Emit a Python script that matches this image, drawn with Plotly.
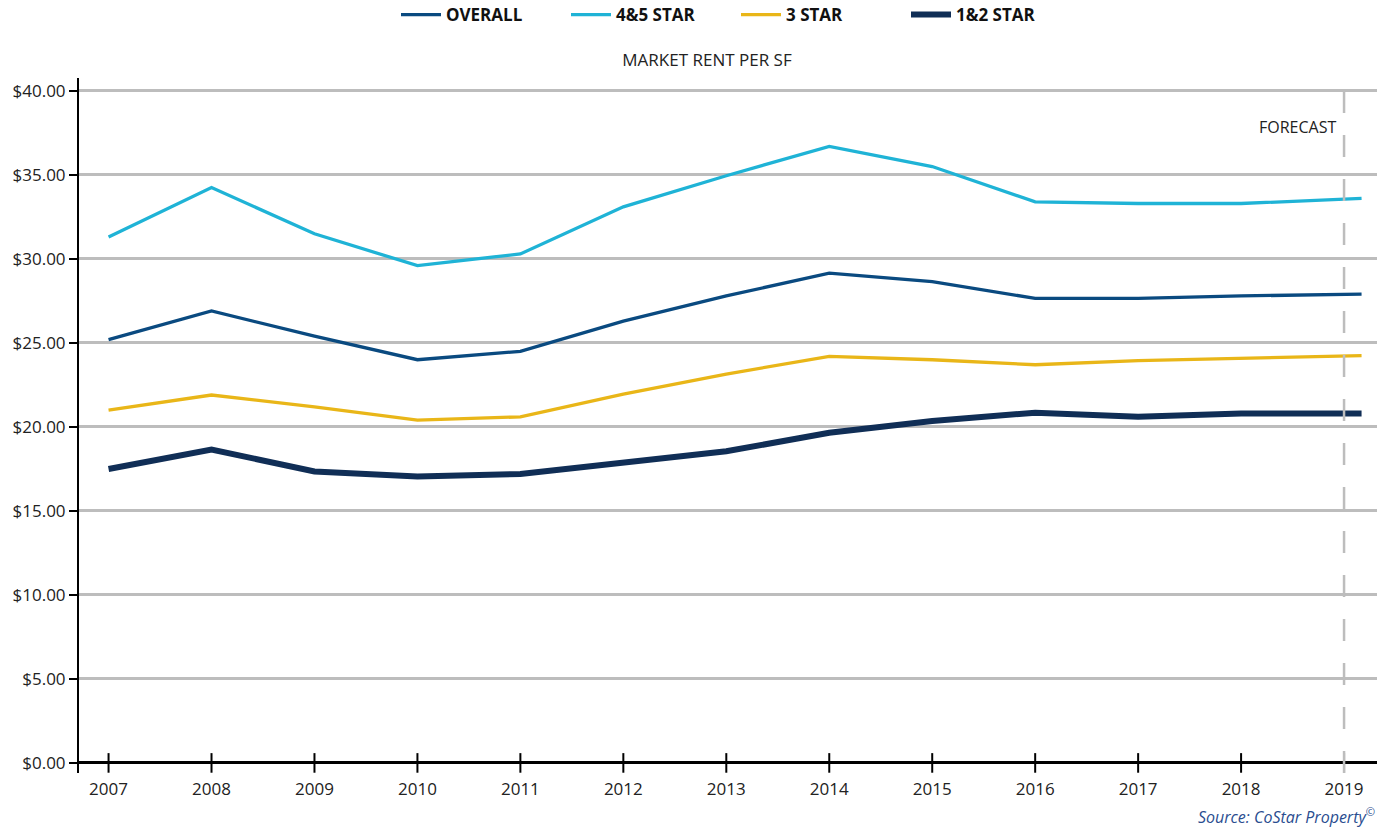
import plotly.graph_objects as go

# ---- data ----
years = [2007, 2008, 2009, 2010, 2011, 2012, 2013, 2014, 2015, 2016, 2017, 2018, 2019.17]
tick_years = [2007, 2008, 2009, 2010, 2011, 2012, 2013, 2014, 2015, 2016, 2017, 2018, 2019]
overall = [25.2, 26.9, 25.4, 24.0, 24.5, 26.3, 27.8, 29.15, 28.65, 27.65, 27.65, 27.8, 27.9]
star45 = [31.3, 34.25, 31.5, 29.6, 30.3, 33.1, 34.95, 36.7, 35.5, 33.4, 33.3, 33.3, 33.6]
star3 = [21.0, 21.9, 21.2, 20.4, 20.6, 21.95, 23.15, 24.2, 24.0, 23.7, 23.95, 24.1, 24.25]
star12 = [17.5, 18.65, 17.35, 17.05, 17.2, 17.85, 18.55, 19.65, 20.35, 20.85, 20.6, 20.8, 20.8]
y_ticks = [0, 5, 10, 15, 20, 25, 30, 35, 40]
forecast_year = 2019

FONT = "Open Sans"

fig = go.Figure()

series = [
    ("OVERALL", overall, "#0a4a80", 3.3),
    ("4&5 STAR", star45, "#1fb3d6", 3.3),
    ("3 STAR", star3, "#e9b618", 3.3),
    ("1&2 STAR", star12, "#102e56", 6),
]
for name, vals, col, w in series:
    fig.add_trace(go.Scatter(
        x=years, y=vals, name=name, mode="lines",
        line=dict(color=col, width=w), hoverinfo="x+y",
    ))

# x tick marks crossing the zero line
fig.add_trace(go.Scatter(
    x=tick_years, y=[0] * len(tick_years), mode="markers", showlegend=False,
    marker=dict(symbol="line-ns", size=14, line=dict(color="black", width=2)),
    cliponaxis=False, hoverinfo="skip",
))

fig.add_vline(x=forecast_year, line=dict(color="#bdbdbd", width=2.5, dash="22px,22px"))

fig.add_annotation(
    x=forecast_year, y=37.85, xref="x", yref="y", text="FORECAST",
    showarrow=False, xanchor="right", yanchor="middle", xshift=-6,
    font=dict(family=FONT, size=16, color="#222"),
)

fig.add_annotation(
    x=1, y=0, xref="paper", yref="paper",
    text="<i>Source: CoStar Property</i><sup>©</sup>",
    showarrow=False, xanchor="right", yanchor="middle", yshift=-43,
    font=dict(family=FONT, size=16, color="#2a4d8f"),
)

fig.update_layout(
    width=1389, height=827,
    margin=dict(l=79, r=12, t=78, b=54),
    paper_bgcolor="white", plot_bgcolor="white",
    font=dict(family=FONT, size=16, color="#222"),
    title=dict(text="MARKET RENT PER SF", x=707 / 1389, xanchor="center",
               y=1 - 60 / 827, yanchor="middle", yref="container",
               font=dict(family=FONT, size=17, color="#222")),
    legend=dict(orientation="h", x=736 / 1389, xanchor="center", xref="container",
                y=1 - 15 / 827, yanchor="middle", yref="container",
                font=dict(family=FONT, size=17, color="#111", weight="bold"),
                itemwidth=40, entrywidth=115, entrywidthmode="pixels"),
    showlegend=True,
)

fig.update_xaxes(
    range=[2006.713, 2019.32], tickvals=tick_years, ticktext=[str(t) for t in tick_years],
    showgrid=False, showline=False, zeroline=False,
    ticks="outside", ticklen=1, tickcolor="rgba(0,0,0,0)",
    tickfont=dict(family=FONT, size=17, color="#222"),
)
fig.update_yaxes(
    range=[-0.6, 40.77], tickvals=y_ticks, ticktext=[f"${v:.2f}" for v in y_ticks],
    showgrid=True, gridcolor="#bdbdbd", gridwidth=2.5,
    showline=True, linecolor="black", linewidth=2,
    zeroline=True, zerolinecolor="black", zerolinewidth=2.5,
    ticks="outside", ticklen=8, tickwidth=2, tickcolor="black",
    tickfont=dict(family=FONT, size=17, color="#222"),
)

fig.write_html("out.html")
